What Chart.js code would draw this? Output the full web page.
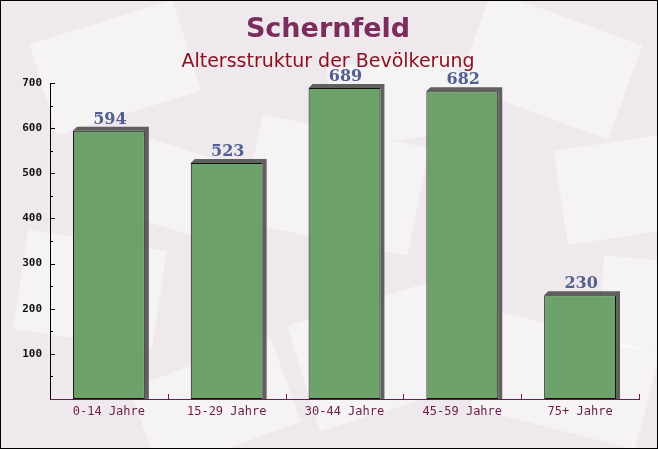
<!DOCTYPE html>
<html>
<head>
<meta charset="utf-8">
<script src="https://cdn.jsdelivr.net/npm/chart.js@4/dist/chart.umd.min.js"></script>
<style>
  html, body { margin: 0; padding: 0; background: #f2edf0; }
  #wrap { width: 658px; height: 449px; position: relative; }
</style>
</head>
<body>
<div id="wrap"><canvas id="ageChart" width="658" height="449"></canvas></div>
<script>
// Altersstruktur Schernfeld
const categories = ['0-14 Jahre', '15-29 Jahre', '30-44 Jahre', '45-59 Jahre', '75+ Jahre'];
const population = [594, 523, 689, 682, 230];
const yTicks = [100, 200, 300, 400, 500, 600, 700];

const titleText = 'Schernfeld';
const subtitleText = 'Altersstruktur der Bevölkerung';

// hintergrund mit blassen "briefumschlag" flächen
const bgPlugin = {
  id: 'bg',
  beforeDraw(chart) {
    const c = chart.ctx;
    c.save();
    c.fillStyle = '#efe9ed';
    c.fillRect(0, 0, chart.width, chart.height);
    const shapes = [
      [40, 20, 150, 95, -0.3], [250, 130, 170, 110, 0.2], [470, 15, 160, 100, 0.35],
      [560, 140, 140, 95, -0.15], [20, 240, 140, 100, 0.15], [300, 300, 160, 110, -0.3],
      [480, 330, 170, 100, 0.25], [140, 360, 150, 90, -0.35], [600, 260, 100, 90, 0.1],
      [330, 60, 130, 80, -0.1], [120, 150, 120, 80, 0.3]
    ];
    c.fillStyle = 'rgba(255,255,255,0.45)';
    shapes.forEach(([x, y, w, h, a]) => {
      c.save();
      c.translate(x + w / 2, y + h / 2);
      c.rotate(a);
      c.fillRect(-w / 2, -h / 2, w, h);
      c.restore();
    });
    c.restore();
  },
  afterDraw(chart) {
    const c = chart.ctx;
    c.save();
    c.strokeStyle = '#000';
    c.lineWidth = 1;
    c.strokeRect(0.5, 0.5, chart.width - 1, chart.height - 1);
    c.restore();
  }
};

// titel + untertitel
const titlePlugin = {
  id: 'titles',
  afterDraw(chart) {
    const c = chart.ctx;
    c.save();
    c.textAlign = 'center';
    c.textBaseline = 'middle';
    c.fillStyle = '#7b2d5b';
    c.font = 'bold 27px "DejaVu Sans"';
    c.fillText(titleText, 328, 30);
    c.fillStyle = '#8c0f1e';
    c.font = '19px "DejaVu Sans"';
    c.fillText(subtitleText, 328, 62);
    c.restore();
  }
};

// 3D-schatten hinter den balken + werte
const shadowPlugin = {
  id: 'barShadow',
  beforeDatasetsDraw(chart) {
    const c = chart.ctx;
    const d = 4;
    c.save();
    c.fillStyle = 'rgba(80,80,80,0.9)';
    chart.getDatasetMeta(0).data.forEach(bar => {
      const l = bar.x - bar.width / 2;
      const r = bar.x + bar.width / 2;
      c.beginPath();
      c.moveTo(l, bar.y);
      c.lineTo(l + d, bar.y - d);
      c.lineTo(r + d, bar.y - d);
      c.lineTo(r + d, bar.base);
      c.lineTo(r, bar.base);
      c.lineTo(r, bar.y);
      c.closePath();
      c.fill();
    });
    c.restore();
  },
  afterDatasetsDraw(chart) {
    const c = chart.ctx;
    c.save();
    c.fillStyle = '#52608f';
    c.font = 'bold 16px "DejaVu Serif"';
    c.textAlign = 'center';
    c.textBaseline = 'bottom';
    chart.getDatasetMeta(0).data.forEach((bar, i) => {
      c.fillText(population[i], bar.x + 1, bar.y - 3);
    });
    c.restore();
  }
};

// tick-striche nach innen
const axisTicksPlugin = {
  id: 'innerTicks',
  afterDraw(chart) {
    const c = chart.ctx;
    const y = chart.scales.y;
    const area = chart.chartArea;
    c.save();
    c.lineWidth = 1;
    c.strokeStyle = '#000';
    for (let v = 50; v <= 700; v += 50) {
      const py = Math.round(y.getPixelForValue(v)) + 0.5;
      c.beginPath();
      c.moveTo(area.left, py);
      c.lineTo(area.left + (v % 100 === 0 ? 5 : 3), py);
      c.stroke();
    }
    c.strokeStyle = '#6b1d4a';
    const step = (area.right - area.left) / categories.length;
    for (let i = 1; i <= categories.length; i++) {
      const px = Math.round(area.left + step * i) + 0.5;
      c.beginPath();
      c.moveTo(px, area.bottom);
      c.lineTo(px, area.bottom - 5);
      c.stroke();
    }
    c.restore();
  }
};

new Chart(document.getElementById('ageChart'), {
  type: 'bar',
  data: {
    labels: categories,
    datasets: [{
      data: population,
      backgroundColor: 'rgba(98,156,96,0.93)',
      borderColor: '#111',
      borderWidth: 1,
      borderSkipped: false,
      categoryPercentage: 0.61,
      barPercentage: 1
    }]
  },
  options: {
    responsive: false,
    animation: false,
    layout: { padding: { top: 83, right: 19, left: 0, bottom: 0 } },
    plugins: { legend: { display: false }, tooltip: { enabled: false } },
    scales: {
      y: {
        min: 0,
        max: 700,
        afterFit(s) { s.width = 50; },
        afterBuildTicks(s) { s.ticks = yTicks.map(v => ({ value: v })); },
        grid: { display: false, drawTicks: false },
        border: { display: true, color: '#000', width: 1 },
        ticks: {
          color: '#111',
          padding: 8,
          font: { family: '"DejaVu Sans Mono"', size: 11, weight: 'bold' }
        }
      },
      x: {
        afterFit(s) { s.height = 50; },
        grid: { display: false, drawTicks: false },
        border: { display: true, color: '#6b1d4a', width: 1 },
        ticks: {
          color: '#6b1d4a',
          padding: 6,
          font: { family: '"DejaVu Sans Mono"', size: 12 }
        }
      }
    }
  },
  plugins: [bgPlugin, shadowPlugin, axisTicksPlugin, titlePlugin]
});
</script>
</body>
</html>
